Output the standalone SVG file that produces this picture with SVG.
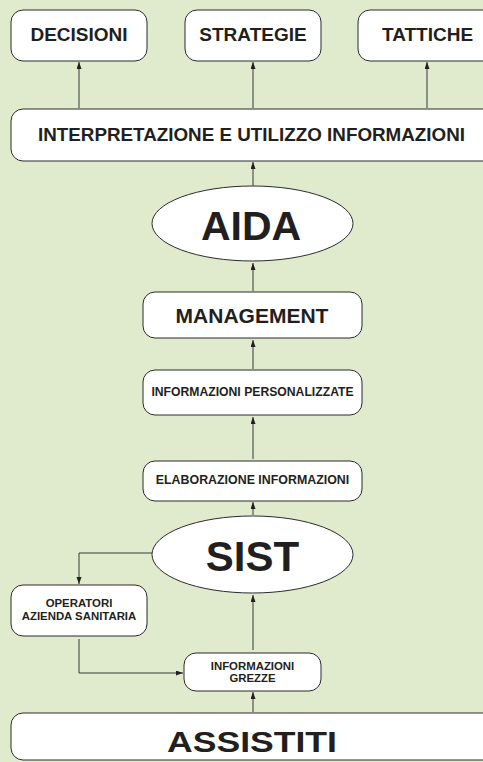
<svg xmlns="http://www.w3.org/2000/svg" width="483" height="762" viewBox="0 0 483 762">
<style>
.box{fill:#fff;stroke:#2b2b2b;stroke-width:1}
.t{font-family:"Liberation Sans",Arial,sans-serif;font-weight:bold;fill:#231f20;text-anchor:middle}
.c{fill:none;stroke:#3a3a3a;stroke-width:1}
</style>
<defs>
<marker id="ah" markerUnits="userSpaceOnUse" markerWidth="8" markerHeight="6" refX="7" refY="2.5" orient="auto">
<path d="M0,0 L7,2.5 L0,5 z" fill="#231f20"/>
</marker>
</defs>
<rect x="0" y="0" width="483" height="762" fill="#dfebcc"/>
<g id="connectors">
<line class="c" x1="79" y1="108" x2="79" y2="62" marker-end="url(#ah)"/>
<line class="c" x1="253" y1="108" x2="253" y2="62" marker-end="url(#ah)"/>
<line class="c" x1="427" y1="108" x2="427" y2="62" marker-end="url(#ah)"/>
<line class="c" x1="253" y1="186" x2="253" y2="162" marker-end="url(#ah)"/>
<line class="c" x1="253" y1="291" x2="253" y2="263" marker-end="url(#ah)"/>
<line class="c" x1="253" y1="369" x2="253" y2="340" marker-end="url(#ah)"/>
<line class="c" x1="253" y1="459" x2="253" y2="417" marker-end="url(#ah)"/>
<line class="c" x1="253" y1="515" x2="253" y2="502" marker-end="url(#ah)"/>
<polyline class="c" points="152,553 79,553 79,584" marker-end="url(#ah)"/>
<polyline class="c" points="79,639 79,673 183,673" marker-end="url(#ah)"/>
<line class="c" x1="253" y1="650" x2="253" y2="595" marker-end="url(#ah)"/>
<line class="c" x1="253" y1="712" x2="253" y2="692" marker-end="url(#ah)"/>
</g>
<g id="decisioni"><rect class="box" x="11" y="10" width="136" height="51" rx="12"/><text class="t" x="79" y="41" font-size="19">DECISIONI</text></g>
<g id="strategie"><rect class="box" x="185" y="10" width="136" height="51" rx="12"/><text class="t" x="253" y="41" font-size="19">STRATEGIE</text></g>
<g id="tattiche"><rect class="box" x="358" y="10" width="138" height="51" rx="12"/><text class="t" x="427.5" y="41" font-size="19">TATTICHE</text></g>
<g id="interpretazione"><rect class="box" x="11" y="109" width="485" height="52" rx="12"/><text class="t" x="251.5" y="141" font-size="19" textLength="427" lengthAdjust="spacingAndGlyphs">INTERPRETAZIONE E UTILIZZO INFORMAZIONI</text></g>
<g id="aida"><ellipse class="box" cx="252.5" cy="223.5" rx="100.5" ry="37.5"/><text class="t" x="251" y="240" font-size="41">AIDA</text></g>
<g id="management"><rect class="box" x="143" y="292" width="219" height="46" rx="12"/><text class="t" x="252" y="323" font-size="21">MANAGEMENT</text></g>
<g id="info-personalizzate"><rect class="box" x="143" y="370" width="219" height="45" rx="12"/><text class="t" x="252.5" y="396" font-size="12.2">INFORMAZIONI PERSONALIZZATE</text></g>
<g id="elaborazione"><rect class="box" x="143" y="461" width="219" height="40" rx="12"/><text class="t" x="252.5" y="484" font-size="12.4">ELABORAZIONE INFORMAZIONI</text></g>
<g id="sist"><ellipse class="box" cx="252.5" cy="554.5" rx="100.5" ry="38.5"/><text class="t" x="252.5" y="571" font-size="42">SIST</text></g>
<g id="operatori"><rect class="box" x="11" y="585" width="136" height="51" rx="12"/><text class="t" x="79" y="607" font-size="11.4">OPERATORI</text><text class="t" x="79" y="620" font-size="11.4">AZIENDA SANITARIA</text></g>
<g id="info-grezze"><rect class="box" x="184" y="653" width="137" height="38" rx="12"/><text class="t" x="252.5" y="669.5" font-size="11.4">INFORMAZIONI</text><text class="t" x="252.5" y="682" font-size="11.4">GREZZE</text></g>
<g id="assistiti"><rect class="box" x="11" y="713" width="485" height="47" rx="12"/><text class="t" x="252" y="752" font-size="30" textLength="170" lengthAdjust="spacingAndGlyphs">ASSISTITI</text></g>
</svg>
